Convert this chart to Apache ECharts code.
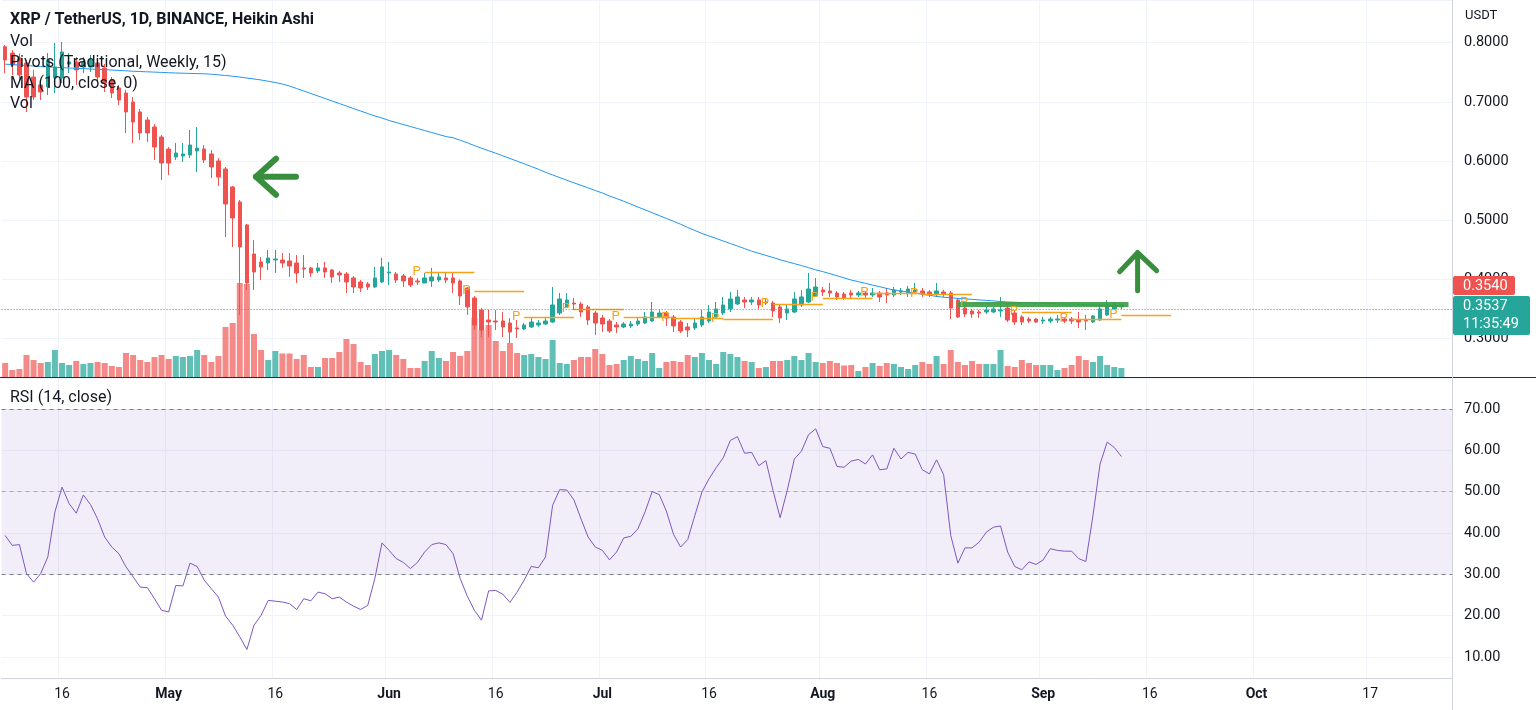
<!DOCTYPE html>
<html><head><meta charset="utf-8">
<script src="https://cdn.jsdelivr.net/npm/echarts@6/dist/echarts.min.js"></script>
<style>html,body{margin:0;padding:0;background:#fff;overflow:hidden}#c{width:1536px;height:710px}</style>
</head><body><div id="c"></div>
<script>
// ---------- DATA ----------
const firstDate = '2022-04-08';
const lastAxisDate = '2022-10-28';
// Heikin Ashi daily candles [open, close, low, high]
const heikinAshi = [
[.7932,.7708,.7488,.7961],[.7826,.7623,.7454,.7876],[.7742,.7454,.7370,.7820],[.7657,.7083,.6830,.7708],[.7420,.7083,.7032,.7539],
[.7285,.7167,.7032,.7370],[.7252,.7708,.7117,.7826],[.7404,.7589,.7150,.7995],[.7404,.7843,.7319,.8012],[.7640,.7674,.7488,.7826],
[.7674,.7539,.7285,.7758],[.7589,.7674,.7488,.7758],[.7589,.7708,.7505,.7792],[.7657,.7420,.7336,.7708],[.7573,.7319,.7167,.7640],
[.7370,.7150,.7066,.7420],[.7235,.7032,.6948,.7285],[.7150,.6830,.6475,.7201],[.6998,.6661,.6306,.7083],[.6830,.6475,.6356,.6880],
[.6694,.6475,.6323,.6745],[.6576,.6238,.6019,.6627],[.6407,.5968,.5681,.6441],[.6204,.5968,.5765,.6238],[.6069,.6137,.6019,.6306],
[.6086,.6120,.5985,.6306],[.6103,.6272,.6052,.6525],[.6171,.6221,.5816,.6576],[.6204,.6019,.5968,.6272],[.6120,.5900,.5715,.6187],
[.6002,.5731,.5580,.6052],[.5867,.5275,.4718,.5900],[.5563,.5039,.4549,.5580],[.5309,.4549,.3400,.5343],[.4921,.3941,.3823,.4938],
[.4431,.4127,.3823,.4667],[.4296,.4212,.3992,.4380],[.4279,.4364,.4161,.4498],[.4330,.4347,.4110,.4498],[.4330,.4279,.4195,.4448],
[.4313,.4228,.4043,.4448],[.4279,.4110,.3941,.4414],[.4195,.4178,.4026,.4414],[.4195,.4110,.4043,.4212],[.4144,.4195,.4110,.4279],
[.4195,.4127,.4026,.4296],[.4161,.4043,.3941,.4178],[.4110,.4077,.3958,.4144],[.4093,.3958,.3772,.4127],[.4026,.3874,.3772,.4060],
[.3958,.3857,.3789,.3992],[.3924,.3874,.3823,.3958],[.3874,.4026,.3857,.4212],[.3958,.4212,.3941,.4364],[.4110,.4127,.3907,.4296],
[.4093,.3992,.3941,.4127],[.4060,.3975,.3874,.4093],[.4026,.3907,.3874,.4060],[.3975,.3958,.3907,.4026],[.3941,.4026,.3941,.4110],
[.3975,.4043,.3874,.4195],[.3992,.4043,.3958,.4110],[.4026,.3992,.3941,.4110],[.4026,.3941,.3772,.4110],[.3975,.3722,.3570,.4000],
[.3857,.3536,.3401,.3874],[.3688,.3232,.3147,.3722],[.3485,.3147,.3029,.3519],[.3316,.3282,.3029,.3485],[.3299,.3282,.3147,.3485],
[.3299,.3198,.3029,.3451],[.3265,.3113,.2928,.3350],[.3181,.3164,.3012,.3316],[.3164,.3232,.3147,.3265],[.3198,.3282,.3181,.3367],
[.3232,.3265,.3198,.3316],[.3248,.3299,.3232,.3350],[.3282,.3570,.3265,.3874],[.3434,.3671,.3401,.3772],[.3536,.3654,.3519,.3772],
[.3603,.3586,.3485,.3688],[.3586,.3451,.3367,.3620],[.3536,.3316,.3232,.3570],[.3434,.3265,.3063,.3468],[.3350,.3248,.3113,.3401],
[.3299,.3130,.3096,.3333],[.3232,.3198,.3096,.3282],[.3198,.3248,.3181,.3282],[.3215,.3248,.3181,.3299],[.3248,.3299,.3215,.3350],
[.3265,.3367,.3248,.3451],[.3299,.3451,.3282,.3620],[.3367,.3434,.3350,.3485],[.3434,.3350,.3215,.3468],[.3367,.3215,.3113,.3401],
[.3282,.3130,.3096,.3316],[.3198,.3147,.3029,.3265],[.3181,.3265,.3147,.3350],[.3232,.3367,.3198,.3485],[.3299,.3451,.3265,.3570],
[.3367,.3502,.3350,.3620],[.3434,.3570,.3401,.3705],[.3502,.3671,.3451,.3789],[.3586,.3705,.3570,.3823],[.3654,.3620,.3519,.3705],
[.3620,.3654,.3570,.3705],[.3654,.3570,.3502,.3705],[.3603,.3620,.3570,.3671],[.3603,.3468,.3367,.3637],[.3536,.3350,.3265,.3570],
[.3434,.3502,.3316,.3586],[.3451,.3671,.3434,.3789],[.3570,.3705,.3536,.3823],[.3620,.3840,.3603,.4110],[.3722,.3874,.3705,.4026],
[.3823,.3789,.3722,.3874],[.3806,.3772,.3705,.3941],[.3772,.3705,.3654,.3806],[.3755,.3688,.3654,.3789],[.3772,.3739,.3688,.3823],
[.3739,.3772,.3705,.3806],[.3772,.3739,.3688,.3789],[.3739,.3772,.3705,.3857],[.3772,.3705,.3620,.3806],[.3772,.3739,.3603,.3857],
[.3739,.3823,.3705,.3874],[.3789,.3806,.3739,.3857],[.3772,.3840,.3705,.3891],[.3789,.3823,.3772,.3941],[.3806,.3755,.3705,.3857],
[.3789,.3755,.3705,.3823],[.3755,.3806,.3705,.3941],[.3789,.3755,.3705,.3823],[.3772,.3519,.3333,.3806],[.3654,.3367,.3350,.3688],
[.3519,.3417,.3367,.3553],[.3468,.3417,.3350,.3502],[.3451,.3434,.3350,.3485],[.3451,.3485,.3417,.3536],[.3451,.3502,.3434,.3536],
[.3468,.3485,.3367,.3705],[.3519,.3316,.3282,.3570],[.3434,.3282,.3232,.3468],[.3367,.3282,.3232,.3400],[.3333,.3299,.3265,.3367],
[.3333,.3282,.3265,.3350],[.3299,.3316,.3248,.3367],[.3299,.3333,.3265,.3367],[.3316,.3333,.3265,.3401],[.3333,.3299,.3265,.3350],
[.3333,.3299,.3248,.3367],[.3316,.3282,.3181,.3451],[.3316,.3299,.3147,.3401],[.3282,.3384,.3265,.3400],[.3316,.3502,.3299,.3603],
[.3401,.3553,.3384,.3654],[.3502,.3570,.3485,.3620],[.3536,.3570,.3502,.3603]
];
// volume (millions XRP)
const volume = [
140,70,80,220,170,140,150,270,140,120,160,130,140,150,140,110,100,240,220,170,150,200,220,180,210,200,210,270,220,150,
210,500,540,940,930,430,270,170,260,235,235,
180,220,100,100,190,190,250,380,330,150,120,230,260,270,220,180,90,90,160,260,190,160,250,210,260,590,470,520,360,260,
340,240,220,230,200,180,370,140,130,
170,200,200,280,230,120,130,170,210,180,160,240,90,150,160,150,220,200,240,170,130,250,230,200,160,150,90,100,160,160,
170,210,170,240,150,140,160,140,115,
120,60,100,140,110,140,130,100,80,120,150,130,210,130,270,150,120,160,130,130,130,270,110,100,170,140,120,120,120,70,
90,120,210,170,150,210,120,100,90
];
// MA(100, close)
const ma100 = [
.7637,.7630,.7623,.7615,.7606,.7598,.7589,.7584,.7579,.7572,.7567,.7562,.7555,.7550,.7544,.7539,.7532,.7525,.7518,.7513,
.7508,.7503,.7498,.7493,.7488,.7485,.7481,.7478,.7474,.7468,.7457,.7446,.7434,.7420,.7403,.7387,.7370,.7349,.7327,.7302,
.7268,.7226,.7184,.7142,.7099,.7057,.7015,.6973,.6930,.6888,.6846,.6804,.6762,.6728,.6686,.6652,.6618,.6584,.6550,.6517,
.6483,.6449,.6415,.6395,.6353,.6309,.6262,.6218,.6175,.6133,.6089,.6045,.6000,.5954,.5909,.5863,.5811,.5767,.5721,.5677,
.5633,.5591,.5547,.5503,.5461,.5410,.5368,.5322,.5273,.5224,.5177,.5128,.5079,.5032,.4983,.4934,.4878,.4829,.4778,.4736,
.4694,.4650,.4608,.4566,.4522,.4478,.4442,.4407,.4371,.4334,.4300,.4268,.4235,.4201,.4163,.4133,.4099,.4064,.4027,.3991,
.3964,.3935,.3905,.3878,.3849,.3822,.3805,.3787,.3770,.3751,.3734,.3714,.3701,.3691,.3682,.3674,.3665,.3655,.3647,.3638,
.3628,.3620,.3616,.3611,.3608,.3604,.3599,.3596,.3591,.3587,.3584,.3579,.3576,.3572,.3567,.3564,.3561,.3555
];
// RSI(14, close)
const rsi14 = [
39.4,37.0,37.2,30.2,28.1,30.2,34.2,45.1,51.1,47.1,44.8,49.2,46.9,43.4,39.0,36.6,35.0,31.8,29.4,26.9,
26.8,24.1,21.3,20.9,27.3,27.2,32.7,31.9,28.6,26.5,24.5,19.9,17.7,14.9,11.8,17.7,20.1,23.7,23.5,23.3,
22.9,21.5,24.1,23.6,25.7,25.3,24.1,24.5,23.3,22.3,21.5,22.5,29.0,37.6,35.8,33.8,32.9,31.4,32.9,35.4,
37.2,37.6,37.2,35.0,29.0,24.7,21.3,18.9,26.0,26.1,25.2,23.2,25.7,28.6,31.9,31.6,34.2,46.7,50.5,50.4,
48.0,43.4,39.0,36.6,35.8,33.5,35.4,38.8,39.2,41.0,45.1,50.0,49.3,45.3,39.7,36.6,38.4,44.2,49.9,53.1,
55.8,58.2,62.4,63.3,59.3,59.5,56.3,57.5,50.3,43.7,50.3,57.9,59.8,63.8,65.2,60.9,60.5,56.1,55.9,57.4,
57.8,56.7,58.9,55.3,55.5,60.5,57.9,59.5,59.1,55.3,54.3,57.7,54.1,39.4,32.7,36.4,36.4,37.8,40.2,41.4,
41.7,35.4,31.9,31.1,33.0,32.4,33.5,36.2,35.8,35.6,35.6,33.8,33.1,44.2,56.7,62.0,60.7,58.5
];
// Weekly traditional pivots (P level)
const pivotWeekStart = ['2022-06-06','2022-06-13','2022-06-20','2022-06-27','2022-07-04','2022-07-11','2022-07-18','2022-07-25',
  '2022-08-01','2022-08-08','2022-08-15','2022-08-22','2022-08-29','2022-09-05','2022-09-12'];
const pivotP = [0.4127,0.3806,0.3366,0.3502,0.3366,0.3350,0.3333,0.3586,0.3688,0.3772,0.3755,0.3603,0.3451,0.3333,0.3401];
// time-axis labels
const xTickDates = ['2022-04-16','2022-05-01','2022-05-16','2022-06-01','2022-06-16','2022-07-01','2022-07-16','2022-08-01',
  '2022-08-16','2022-09-01','2022-09-16','2022-10-01','2022-10-17'];
const xTickLabels = ['16','May','16','Jun','16','Jul','16','Aug','16','Sep','16','Oct','17'];
// last price / labels
const lastPrice = 0.3537;
const secondPrice = 0.3540;
const countdown = '11:35:49';
// drawn annotations (date index, price)
const highlight = {from: 134, to: 158, price: 0.3578};
const leftArrowTip = {idx: 35, price: 0.5736};
const upArrowTip = {idx: 159, price: 0.4453};

// ---------- BUILD ----------
const dates = [];
for (let t = Date.parse(firstDate+'T00:00:00Z'); t <= Date.parse(lastAxisDate+'T00:00:00Z'); t += 86400000) dates.push(new Date(t).toISOString().slice(0,10));
const tickMap = {}; xTickDates.forEach((d,k)=>tickMap[d]=xTickLabels[k]);
const tickFn = (i, v) => tickMap[v] !== undefined;
function addDays(d, n){ const t = Date.parse(d+'T00:00:00Z') + n*86400000; return new Date(t).toISOString().slice(0,10); }

const UP = '#26a69a', DOWN = '#ef5350';
const FONT = 'Roboto, "Liberation Sans", sans-serif';
const TXT = '#131722';
const GRIDC = '#f0f3fa';
const PIV = '#f7a21b';

const volData = volume.map((v,i)=>({value:v, itemStyle:{color: heikinAshi[i][1] >= heikinAshi[i][0] ? 'rgba(38,166,154,0.72)' : 'rgba(239,83,80,0.68)'}}));

const pivotLines = pivotWeekStart.map((d,k)=>[
  {coord:[d, pivotP[k]], lineStyle:{color:PIV, width:1.4, type:'solid'},
   label:{show:true, position:'start', formatter:'P', color:PIV, fontSize:13, fontFamily:FONT, distance:4}},
  {coord:[addDays(d,7), pivotP[k]]}
]);

const chart = echarts.init(document.getElementById('c'));
const gL = 1.6, gR = 84;
chart.setOption({
  animation:false,
  backgroundColor:'#ffffff',
  textStyle:{fontFamily:FONT},
  grid:[
    {left:gL, right:gR, top:0, height:377},
    {left:gL, right:gR, top:227, height:150},
    {left:gL, right:gR, top:378, height:300}
  ],
  xAxis:[
    {type:'category', gridIndex:0, data:dates, boundaryGap:true, axisLine:{show:false}, axisTick:{show:false}, axisLabel:{show:false},
     splitLine:{show:true, interval:tickFn, lineStyle:{color:GRIDC}}},
    {type:'category', gridIndex:1, data:dates, boundaryGap:true, show:false},
    {type:'category', gridIndex:2, data:dates, boundaryGap:true, axisLine:{show:true, lineStyle:{color:'#d1d4dc'}}, axisTick:{show:false},
     axisLabel:{show:true, interval:tickFn, color:TXT, fontSize:14, margin:9, fontFamily:FONT,
       formatter:v=>{const s=tickMap[v]||''; return /^[A-Z]/.test(s) ? '{b|'+s+'}' : s;},
       rich:{b:{fontWeight:'bold', fontSize:14, color:TXT, fontFamily:FONT}}},
     splitLine:{show:true, interval:tickFn, lineStyle:{color:GRIDC}}}
  ],
  yAxis:[
    {type:'value', gridIndex:0, position:'right', min:0.23531, max:0.87213, splitNumber:6, scale:true,
     axisLine:{show:false}, axisTick:{show:false},
     axisLabel:{color:TXT, fontSize:14.5, margin:12, fontFamily:FONT, formatter:v=> Math.abs(v*10-Math.round(v*10))<1e-6 ? v.toFixed(4) : ''},
     splitLine:{lineStyle:{color:GRIDC}}},
    {type:'value', gridIndex:1, min:0, max:1500, show:false},
    {type:'value', gridIndex:2, position:'right', min:4.92, max:77.5, splitNumber:7,
     axisLine:{show:false}, axisTick:{show:false},
     axisLabel:{color:TXT, fontSize:14.5, margin:12, fontFamily:FONT, formatter:v=> Math.abs(v/10-Math.round(v/10))<1e-6 ? v.toFixed(2) : ''},
     splitLine:{lineStyle:{color:GRIDC}}}
  ],
  series:[
    {name:'Vol', type:'bar', xAxisIndex:1, yAxisIndex:1, data:volData, barWidth:6, z:1, silent:true},
    {name:'Pivots', type:'line', xAxisIndex:0, yAxisIndex:0, data:[], z:2, silent:true, color:PIV,
     markLine:{silent:true, symbol:['none','none'], lineStyle:{color:PIV, width:1.4, type:'solid'}, data:pivotLines}},
    {name:'HA', type:'candlestick', xAxisIndex:0, yAxisIndex:0, data:heikinAshi, barWidth:4, z:3,
     itemStyle:{color:UP, color0:DOWN, borderColor:UP, borderColor0:DOWN, borderWidth:1},
     markLine:{silent:true, symbol:['none','none'], label:{show:false},
       data:[
         {yAxis:lastPrice, lineStyle:{color:UP, type:[1,2], width:1}},
         [{coord:[dates[highlight.from], highlight.price], lineStyle:{color:'rgba(60,160,70,0.92)', width:5, type:'solid'}},
          {coord:[dates[highlight.to], highlight.price]}]
       ]}},
    {name:'MA', type:'line', xAxisIndex:0, yAxisIndex:0, data:ma100, showSymbol:false, symbol:'none', z:4,
     lineStyle:{color:'#2196f3', width:1}},
    {name:'RSI', type:'line', xAxisIndex:2, yAxisIndex:2, data:rsi14, showSymbol:false, symbol:'none', z:4,
     lineStyle:{color:'#7e57c2', width:1},
     markArea:{silent:true, itemStyle:{color:'rgba(126,87,194,0.1)'}, data:[[{yAxis:30},{yAxis:70}]]},
     markLine:{silent:true, symbol:['none','none'], label:{show:false},
       data:[
         {yAxis:70, lineStyle:{color:'#787b86', type:[4,4], width:1}},
         {yAxis:50, lineStyle:{color:'rgba(120,123,134,0.55)', type:[4,4], width:1}},
         {yAxis:30, lineStyle:{color:'#787b86', type:[4,4], width:1}}
       ]}}
  ]
});

// ---------- overlays ----------
const px = (idx, price) => chart.convertToPixel({xAxisIndex:0, yAxisIndex:0}, [dates[idx], price]);
const lt = px(leftArrowTip.idx, leftArrowTip.price); lt[0] += 2;
const ut = px(upArrowTip.idx, upArrowTip.price); ut[0] += 2;
const lastY = chart.convertToPixel({yAxisIndex:0}, lastPrice);
const GREEN = '#388e3c';
const arrowStyle = {stroke:GREEN, lineWidth:6, lineCap:'round', lineJoin:'round', fill:null};
const txt = (x,y,s,opt) => Object.assign({type:'text', z:200, silent:true, style:Object.assign({x:x, y:y, text:s, fill:TXT, font:'16px '+FONT, textVerticalAlign:'middle'}, opt||{})});
chart.setOption({
  graphic:[
    {type:'polyline', z:150, silent:true, shape:{points:[[lt[0]+20,lt[1]-18],[lt[0],lt[1]],[lt[0]+20,lt[1]+18]]}, style:arrowStyle},
    {type:'polyline', z:150, silent:true, shape:{points:[[lt[0],lt[1]],[lt[0]+40,lt[1]]]}, style:arrowStyle},
    {type:'polyline', z:150, silent:true, shape:{points:[[ut[0]-18,ut[1]+19],[ut[0],ut[1]],[ut[0]+19,ut[1]+18]]}, style:Object.assign({}, arrowStyle, {lineWidth:5})},
    {type:'polyline', z:150, silent:true, shape:{points:[[ut[0],ut[1]],[ut[0],ut[1]+38]]}, style:Object.assign({}, arrowStyle, {lineWidth:5})},
    {type:'line', z:150, silent:true, shape:{x1:0, y1:377.5, x2:1536, y2:377.5}, style:{stroke:'#2a2e39', lineWidth:1}},
    {type:'line', z:150, silent:true, shape:{x1:1452.5, y1:0, x2:1452.5, y2:710}, style:{stroke:'#d1d4dc', lineWidth:1}},
    txt(10, 20, 'XRP / TetherUS, 1D, BINANCE, Heikin Ashi', {font:'bold 16px '+FONT}),
    txt(10, 42, 'Vol'),
    txt(10, 63, 'Pivots (Traditional, Weekly, 15)'),
    txt(10, 84, 'MA (100, close, 0)'),
    txt(10, 104, 'Vol'),
    txt(10, 398, 'RSI (14, close)'),
    txt(1465, 16, 'USDT', {font:'13px '+FONT}),
    {type:'rect', z:190, silent:true, shape:{x:1453, y:lastY-31, width:62, height:19, r:2}, style:{fill:DOWN}},
    txt(1463, lastY-21, secondPrice.toFixed(4), {fill:'#fff', font:'14.5px '+FONT}),
    {type:'rect', z:190, silent:true, shape:{x:1453, y:lastY-11, width:77, height:39, r:2}, style:{fill:UP}},
    txt(1463, lastY-1, lastPrice.toFixed(4), {fill:'#fff', font:'14.5px '+FONT}),
    txt(1463, lastY+17, countdown, {fill:'#fff', font:'14.5px '+FONT})
  ]
});
</script>
</body></html>
